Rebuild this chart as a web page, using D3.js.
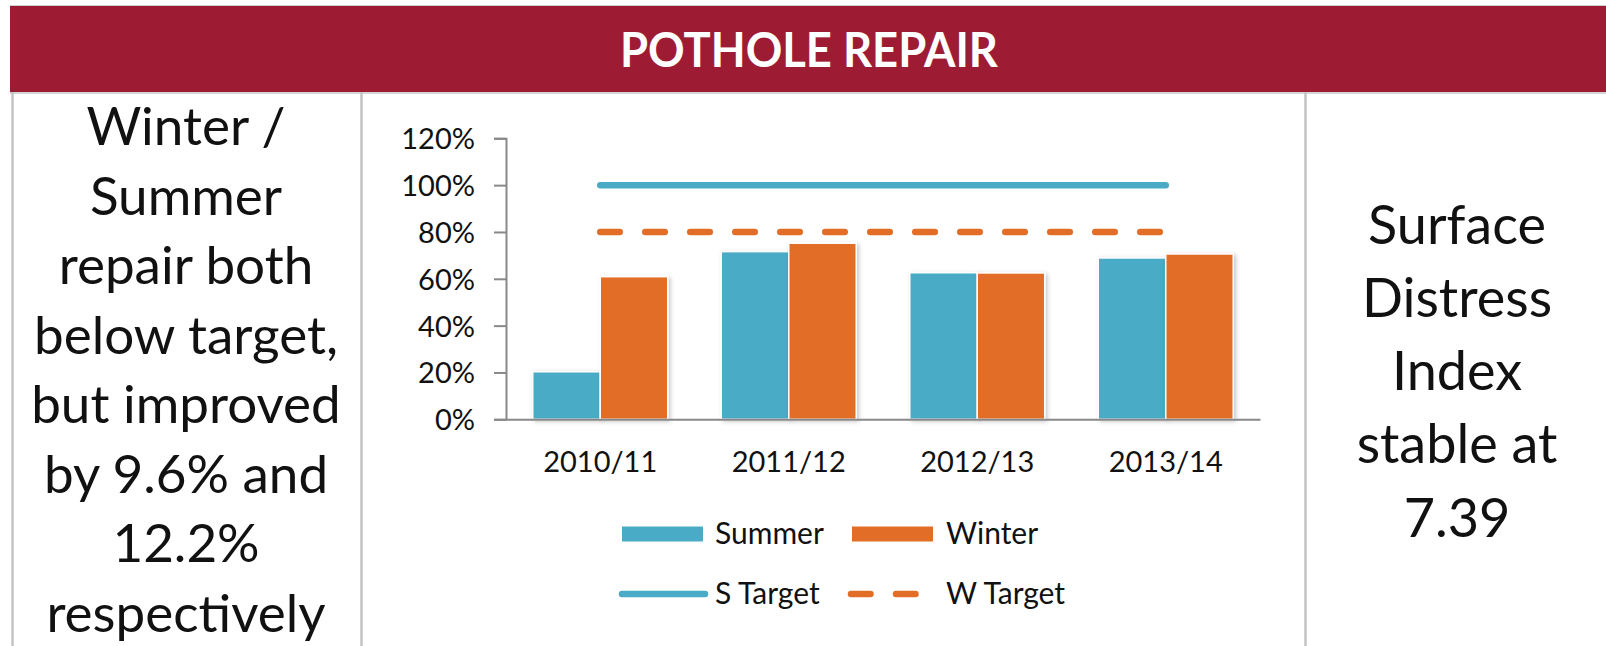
<!DOCTYPE html>
<html>
<head>
<meta charset="utf-8">
<script src="https://cdn.jsdelivr.net/npm/d3@7"></script>
<style>
  body { margin: 0; background: #fff; }
  svg { display: block; font-family: Lato, "Open Sans", sans-serif; }
</style>
</head>
<body>
<div id="panel"></div>
<script>
// DATA
let years = ['2010/11', '2011/12', '2012/13', '2013/14'];
let seriesNames = ['Summer', 'Winter'];
let summerValues = [0.203, 0.716, 0.626, 0.689];
let winterValues = [0.609, 0.752, 0.625, 0.706];
let sTargetValues = [1.0, 1.0, 1.0, 1.0];
let wTargetValues = [0.8, 0.8, 0.8, 0.8];
let yTicks = [0, 0.2, 0.4, 0.6, 0.8, 1.0, 1.2];

let title = 'POTHOLE REPAIR';
let leftNote = ['Winter /', 'Summer', 'repair both', 'below target,', 'but improved', 'by 9.6% and', '12.2%', 'respectively'];
let rightNote = ['Surface', 'Distress', 'Index', 'stable at', '7.39'];

// PLOTTING VARIABLES
let width = 1606,
    height = 646;

let colors = {Summer: '#4aabc6', Winter: '#e26d26'};
let plot = {left: 506, right: 1260, top: 138.3, bottom: 419.3};

let svg = d3.select('#panel')
    .append('svg')
    .attr('width', width)
    .attr('height', height);

let defs = svg.append('defs');
let shadow = defs.append('filter')
    .attr('id', 'shadow')
    .attr('x', '-20%').attr('y', '-20%')
    .attr('width', '140%').attr('height', '140%');
shadow.append('feDropShadow')
    .attr('dx', 2).attr('dy', 1.5)
    .attr('stdDeviation', 2)
    .attr('flood-color', '#000')
    .attr('flood-opacity', 0.22);

// frame + header
svg.append('rect')
    .attr('x', 10).attr('y', 6)
    .attr('width', width - 10).attr('height', 86)
    .attr('fill', '#9e1c33');

svg.append('line')
    .attr('x1', 10).attr('x2', width)
    .attr('y1', 5.5).attr('y2', 5.5)
    .attr('stroke', '#d0d0d0').attr('stroke-width', 1);

svg.append('line')
    .attr('x1', 10).attr('x2', width)
    .attr('y1', 93).attr('y2', 93)
    .attr('stroke', '#d4d4d4').attr('stroke-width', 2);

[12.5, 361.5, 1305.5].forEach(x => {
    svg.append('line')
        .attr('x1', x).attr('x2', x)
        .attr('y1', 92).attr('y2', height)
        .attr('stroke', '#c3c3c3')
        .attr('stroke-width', 2.5);
});

svg.append('text')
    .attr('x', 809).attr('y', 67)
    .attr('text-anchor', 'middle')
    .attr('fill', '#fff')
    .attr('font-weight', 700)
    .attr('font-size', 47)
    .attr('textLength', 378)
    .attr('lengthAdjust', 'spacingAndGlyphs')
    .text(title);

// side notes
svg.append('g')
    .selectAll('text')
    .data(leftNote)
    .enter()
    .append('text')
    .attr('x', 186)
    .attr('y', (d, i) => 145 + i * 69.5)
    .attr('text-anchor', 'middle')
    .attr('font-size', 53)
    .attr('fill', '#111')
    .text(d => d);

svg.append('g')
    .selectAll('text')
    .data(rightNote)
    .enter()
    .append('text')
    .attr('x', 1457)
    .attr('y', (d, i) => 243.5 + i * 73.3)
    .attr('text-anchor', 'middle')
    .attr('font-size', 54)
    .attr('fill', '#111')
    .text(d => d);

// Scales
let x0 = d3.scaleBand()
    .domain(years)
    .range([plot.left, plot.right])
    .paddingInner(0.284)
    .paddingOuter(0.142);

let x1 = d3.scaleBand()
    .domain(seriesNames)
    .range([0, x0.bandwidth()]);

let y = d3.scaleLinear()
    .domain([0, 1.2])
    .range([plot.bottom, plot.top]);

let rows = years.map((yr, i) => ({year: yr, Summer: summerValues[i], Winter: winterValues[i]}));

// bars
svg.append('g')
    .selectAll('g')
    .data(rows)
    .enter()
    .append('g')
    .attr('transform', d => `translate(${x0(d.year)},0)`)
    .selectAll('rect')
    .data(d => seriesNames.map(s => ({key: s, value: d[s]})))
    .enter()
    .append('rect')
    .attr('x', d => x1(d.key))
    .attr('y', d => y(d.value))
    .attr('width', x1.bandwidth())
    .attr('height', d => y(0) - y(d.value))
    .attr('fill', d => colors[d.key])
    .attr('stroke', '#fff')
    .attr('stroke-width', 1.5)
    .attr('filter', 'url(#shadow)');

// axes
let yAxis = svg.append('g')
    .attr('transform', `translate(${plot.left},0)`)
    .call(d3.axisLeft(y).tickValues(yTicks).tickSize(12).tickSizeOuter(12).tickFormat(d3.format('.0%')).tickPadding(19));

let xAxis = svg.append('g')
    .attr('transform', `translate(0,${plot.bottom})`)
    .call(d3.axisBottom(x0).tickSize(0).tickSizeOuter(0).tickPadding(32));

[yAxis, xAxis].forEach(a => {
    a.selectAll('path, line')
        .attr('stroke', '#898989')
        .attr('stroke-width', 2);
    a.selectAll('text')
        .attr('font-family', 'Lato, sans-serif')
        .attr('font-size', 29)
        .attr('fill', '#111');
});
yAxis.selectAll('text').attr('dy', '0.36em');
xAxis.selectAll('text').attr('dy', '0.71em');

// target lines
let lineGen = d3.line()
    .x((d, i) => x0(years[i]) + x0.bandwidth() / 2)
    .y(d => y(d));

svg.append('path')
    .datum(sTargetValues)
    .attr('d', lineGen)
    .attr('fill', 'none')
    .attr('stroke', colors.Summer)
    .attr('stroke-width', 6.5)
    .attr('stroke-linecap', 'round');

svg.append('path')
    .datum(wTargetValues)
    .attr('d', lineGen)
    .attr('fill', 'none')
    .attr('stroke', colors.Winter)
    .attr('stroke-width', 6.5)
    .attr('stroke-linecap', 'round')
    .attr('stroke-dasharray', '19.5,25.5');

// legend
let legend = svg.append('g');
let swatches = [
    {name: 'Summer', x: 622, y: 534},
    {name: 'Winter', x: 852, y: 534}
];
legend.selectAll('rect')
    .data(swatches)
    .enter()
    .append('rect')
    .attr('x', d => d.x)
    .attr('y', d => d.y - 7.5)
    .attr('width', 81)
    .attr('height', 15)
    .attr('fill', d => colors[d.name]);

let lineKeys = [
    {name: 'S Target', x: 622, color: colors.Summer, dash: null},
    {name: 'W Target', x: 851, color: colors.Winter, dash: '19.5,25.5'}
];
legend.selectAll('line')
    .data(lineKeys)
    .enter()
    .append('line')
    .attr('x1', d => d.x)
    .attr('x2', d => d.x + 83)
    .attr('y1', 594).attr('y2', 594)
    .attr('stroke', d => d.color)
    .attr('stroke-width', 6.5)
    .attr('stroke-linecap', 'round')
    .attr('stroke-dasharray', d => d.dash);

let legendLabels = [
    {text: 'Summer', x: 715, y: 544},
    {text: 'Winter', x: 946, y: 544},
    {text: 'S Target', x: 715, y: 603.5},
    {text: 'W Target', x: 946, y: 603.5}
];
legend.selectAll('text')
    .data(legendLabels)
    .enter()
    .append('text')
    .attr('x', d => d.x)
    .attr('y', d => d.y)
    .attr('font-size', 30)
    .attr('fill', '#111')
    .text(d => d.text);
</script>
</body>
</html>
